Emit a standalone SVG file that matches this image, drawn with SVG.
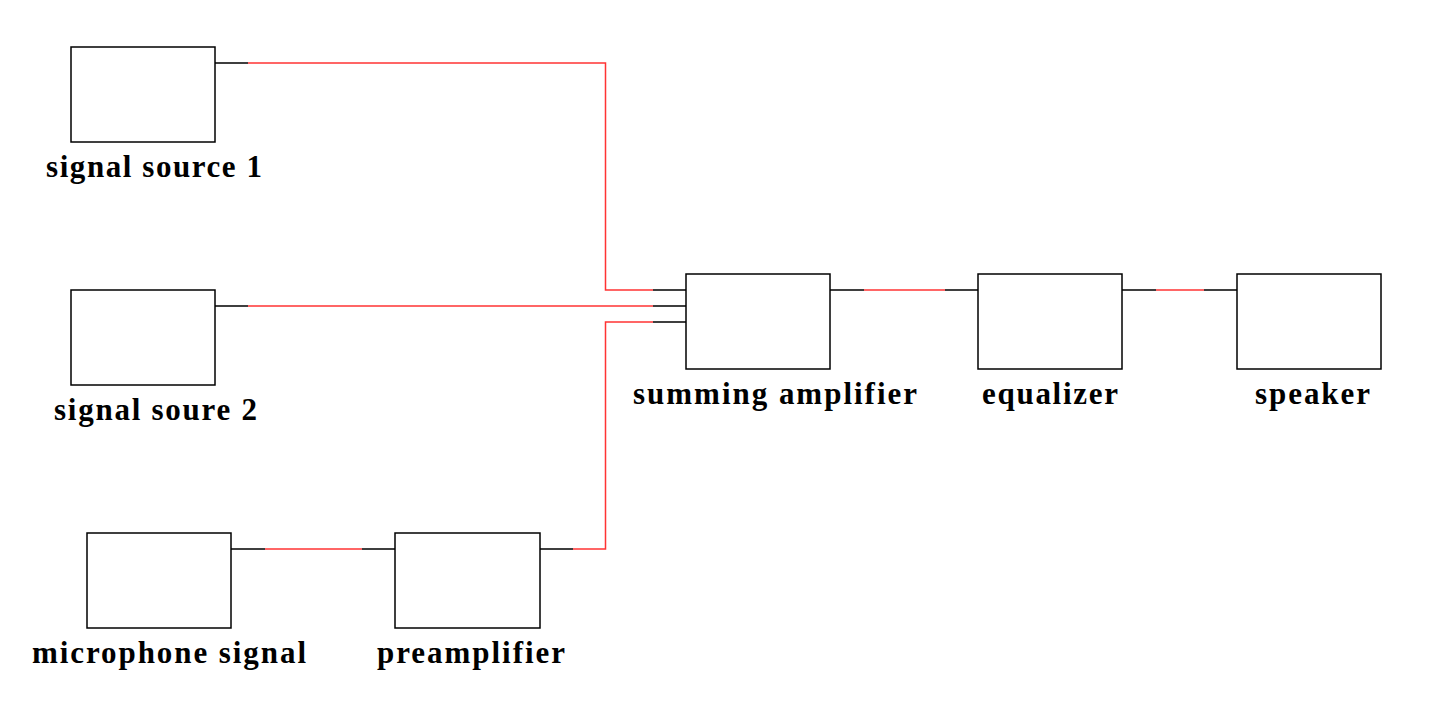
<svg xmlns="http://www.w3.org/2000/svg" width="1438" height="708" viewBox="0 0 1438 708">
<style>
.box{fill:#fff;stroke:#000;stroke-width:1.5}
.blk{fill:none;stroke:#000;stroke-width:1.5}
.red{fill:none;stroke:#f33;stroke-width:1.5}
.lbl{font-family:"Liberation Serif","Times New Roman",serif;font-weight:bold;font-size:31px;fill:#000}
</style>
<rect width="1438" height="708" fill="#fff"/>
<g id="connectors">
<path class="blk" d="M215,63H248M653,290H686"/>
<path class="red" d="M248,63H605.5V290H653"/>
<path class="blk" d="M215,306H248M653,306H686"/>
<path class="red" d="M248,306H653"/>
<path class="blk" d="M540,549H573M653,322H686"/>
<path class="red" d="M573,549H605.5V322H653"/>
<path class="blk" d="M231,549H265M362,549H395"/>
<path class="red" d="M265,549H362"/>
<path class="blk" d="M830,290H864M945,290H978"/>
<path class="red" d="M864,290H945"/>
<path class="blk" d="M1122,290H1156M1204,290H1237"/>
<path class="red" d="M1156,290H1204"/>
</g>
<g id="signal-source-1"><rect class="box" x="71" y="47" width="144" height="95"/><text class="lbl" x="46" y="177" textLength="216" lengthAdjust="spacing">signal source 1</text></g>
<g id="signal-source-2"><rect class="box" x="71" y="290" width="144" height="95"/><text class="lbl" x="54" y="420" textLength="203" lengthAdjust="spacing">signal soure 2</text></g>
<g id="microphone-signal"><rect class="box" x="87" y="533" width="144" height="95"/><text class="lbl" x="32" y="663" textLength="274" lengthAdjust="spacing">microphone signal</text></g>
<g id="preamplifier"><rect class="box" x="395" y="533" width="145" height="95"/><text class="lbl" x="377" y="663" textLength="188" lengthAdjust="spacing">preamplifier</text></g>
<g id="summing-amplifier"><rect class="box" x="686" y="274" width="144" height="95"/><text class="lbl" x="633" y="404" textLength="284" lengthAdjust="spacing">summing amplifier</text></g>
<g id="equalizer"><rect class="box" x="978" y="274" width="144" height="95"/><text class="lbl" x="982" y="404" textLength="136" lengthAdjust="spacing">equalizer</text></g>
<g id="speaker"><rect class="box" x="1237" y="274" width="144" height="95"/><text class="lbl" x="1255" y="404" textLength="115" lengthAdjust="spacing">speaker</text></g>
</svg>
